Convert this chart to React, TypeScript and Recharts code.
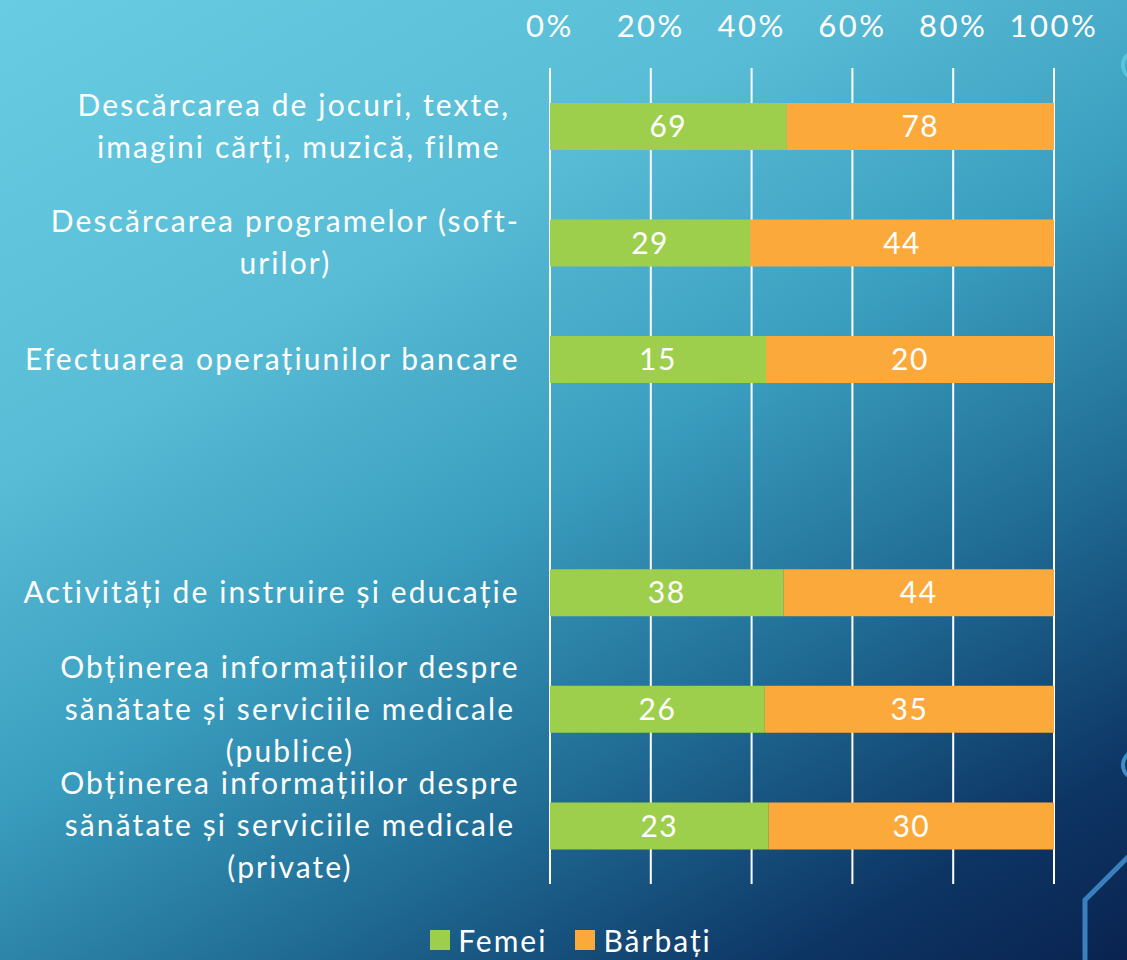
import React from "react";
import {
  BarChart,
  Bar,
  XAxis,
  YAxis,
  CartesianGrid,
  Legend,
  LabelList,
} from "recharts";

const FONT = "Lato, 'Open Sans', sans-serif";

// categories, top to bottom; "\n" marks a line break in the axis label
const categories: string[] = [
  "Descărcarea de jocuri, texte, \nimagini cărți, muzică, filme",
  "Descărcarea programelor (soft-\nurilor)",
  "Efectuarea operațiunilor bancare",
  "",
  "Activități de instruire și educație",
  "Obținerea informațiilor despre\nsănătate și serviciile medicale\n(publice)",
  "Obținerea informațiilor despre\nsănătate și serviciile medicale\n(private)",
];
const femei: (number | null)[] = [69, 29, 15, null, 38, 26, 23];
const barbati: (number | null)[] = [78, 44, 20, null, 44, 35, 30];
const xTicks: number[] = [0, 0.2, 0.4, 0.6, 0.8, 1];

const seriesNames = { femei: "Femei", barbati: "Bărbați" };
const seriesOrder = [seriesNames.femei, seriesNames.barbati];
const colors = { femei: "#9dcf4c", barbati: "#fba93b" };

const data = categories.map((name, i) => ({
  name,
  femei: femei[i],
  barbati: barbati[i],
}));

let measureCtx: CanvasRenderingContext2D | null = null;
const textWidth = (s: string, font: string, spacing: number) => {
  if (!measureCtx) measureCtx = document.createElement("canvas").getContext("2d");
  if (!measureCtx) return s.length * 17;
  measureCtx.font = font;
  return measureCtx.measureText(s).width + spacing * s.length;
};

const LABEL_SIZE = 30;
const LABEL_SPACING = 2.1;
const LINE_H = 42;

// multi-line category label: lines centred on each other, block right-aligned
const CategoryTick = (props: any) => {
  const { x, y, payload } = props;
  const text: string = payload.value || "";
  if (!text) return null;
  const lines = text.split("\n");
  const font = `${LABEL_SIZE}px Lato`;
  const blockW = Math.max(...lines.map((l) => textWidth(l, font, LABEL_SPACING)));
  const right = x - 30;
  const cx = right - blockW / 2;
  const top = y - ((lines.length - 1) * LINE_H) / 2;
  return (
    <g>
      {lines.map((l, i) => (
        <text
          key={i}
          x={cx}
          y={top + i * LINE_H}
          dy="0.35em"
          textAnchor="middle"
          fill="#ffffff"
          fontSize={LABEL_SIZE}
          fontFamily={FONT}
          letterSpacing={LABEL_SPACING}
          style={{ whiteSpace: "pre" }}
        >
          {l}
        </text>
      ))}
    </g>
  );
};

const PercentTick = (props: any) => {
  const { x, y, payload } = props;
  return (
    <text
      x={x}
      y={y}
      dy={-23}
      textAnchor="middle"
      fill="#ffffff"
      fontSize={31}
      fontFamily={FONT}
      letterSpacing={2.5}
    >
      {`${Math.round(payload.value * 100)}%`}
    </text>
  );
};

const LegendContent = (props: any) => {
  const items = [...(props.payload || [])].sort(
    (a: any, b: any) => seriesOrder.indexOf(a.value) - seriesOrder.indexOf(b.value)
  );
  return (
    <div
      style={{
        display: "flex",
        justifyContent: "center",
        alignItems: "center",
        gap: 28,
        height: 40,
        paddingLeft: 88,
        fontFamily: FONT,
        fontSize: 30,
        letterSpacing: 2,
        color: "#ffffff",
      }}
    >
      {items.map((it: any) => (
        <span key={it.value} style={{ display: "flex", alignItems: "center" }}>
          <span
            style={{
              width: 20,
              height: 20,
              background: it.color,
              display: "inline-block",
              marginRight: 8,
            }}
          />
          {it.value}
        </span>
      ))}
    </div>
  );
};

const hideEmpty = (v: any) => (v == null ? "" : v);

const Decor = () => (
  <svg
    width={1127}
    height={960}
    style={{ position: "absolute", left: 0, top: 0, pointerEvents: "none" }}
  >
    <circle cx={1137} cy={65} r={14} fill="none" stroke="#56c6dc" strokeWidth={4} />
    <circle cx={1137} cy={765} r={14} fill="none" stroke="#3b8ec6" strokeWidth={4} />
    <polyline
      points="1085,960 1085,900 1130,855"
      fill="none"
      stroke="#3a80bf"
      strokeWidth={5}
    />
  </svg>
);

const App: React.FC = () => {
  return (
    <div
      style={{
        position: "absolute",
        left: 0,
        top: 0,
        width: 1127,
        height: 960,
        overflow: "hidden",
        background:
          "linear-gradient(150deg, #68cde2 0%, #58bcd6 30%, #3a9ebf 50%, #1f6a93 70%, #0d3564 88%, #0a2350 100%)",
        fontFamily: FONT,
      }}
    >
      <Decor />
      <BarChart
        width={1127}
        height={960}
        data={data}
        layout="vertical"
        stackOffset="expand"
        barCategoryGap="30%"
        margin={{ top: 28, right: 73, left: 0, bottom: 36 }}
      >
        <CartesianGrid horizontal={false} stroke="#ffffff" strokeWidth={2} />
        <XAxis
          type="number"
          orientation="top"
          domain={[0, 1]}
          ticks={xTicks}
          height={40}
          axisLine={false}
          tickLine={false}
          tick={<PercentTick />}
        />
        <YAxis
          type="category"
          dataKey="name"
          width={550}
          interval={0}
          axisLine={false}
          tickLine={false}
          tickSize={0}
          tickMargin={0}
          tick={<CategoryTick />}
        />
        <Legend
          verticalAlign="bottom"
          content={<LegendContent />}
          wrapperStyle={{ bottom: 0 }}
        />
        <Bar
          dataKey="femei"
          name={seriesNames.femei}
          stackId="a"
          fill={colors.femei}
          isAnimationActive={false}
        >
          <LabelList
            dataKey="femei"
            position="center"
            fill="#ffffff"
            fontSize={30}
            fontFamily={FONT}
            letterSpacing={1.5}
            formatter={hideEmpty}
          />
        </Bar>
        <Bar
          dataKey="barbati"
          name={seriesNames.barbati}
          stackId="a"
          fill={colors.barbati}
          isAnimationActive={false}
        >
          <LabelList
            dataKey="barbati"
            position="center"
            fill="#ffffff"
            fontSize={30}
            fontFamily={FONT}
            letterSpacing={1.5}
            formatter={hideEmpty}
          />
        </Bar>
      </BarChart>
    </div>
  );
};

export default App;
